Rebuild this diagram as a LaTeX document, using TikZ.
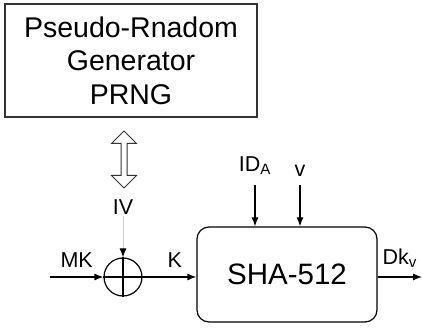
\documentclass[tikz,border=0pt]{standalone}
\usepackage{fontspec}
\setmainfont{Liberation Sans}
\usetikzlibrary{arrows.meta,positioning,shapes.arrows}

\begin{document}
\begin{tikzpicture}[x=1pt,y=-1pt,
  blk/.style={draw=black!80,line width=1.2pt,align=center,inner sep=0pt},
  lbl/.style={font=\fontsize{21.5}{25}\selectfont,inner sep=1pt},
  arr/.style={-{Latex[length=9pt,width=7pt]},line width=1.2pt},
  node distance=8pt]
\useasboundingbox (0,0) rectangle (422,328);
\node[blk,minimum width=252pt,minimum height=113pt,font=\fontsize{28.5}{33.5}\selectfont] (prng) at (131,60.5) {Pseudo-Rnadom\\Generator\\PRNG};
\node[draw=black!80,line width=1pt,double arrow,rotate=90,minimum height=57pt,minimum width=24pt,
      inner sep=2.5pt,double arrow head extend=9.5pt] (iolink) at (124,159.5) {};
\node[lbl] (iv) at (123,207) {IV};
\node[draw,circle,minimum size=38pt,line width=1.2pt,inner sep=0pt] (xor) at (123,277) {};
\draw[line width=1.2pt] (xor.north) -- (xor.south) (xor.west) -- (xor.east);
\draw[-{Latex[length=9pt,width=7pt,color=black]},black!20,line width=1pt] (iv) -- (xor);
\node[blk,draw=black,rounded corners=12pt,minimum width=180pt,minimum height=95pt,font=\fontsize{29.5}{34}\selectfont] (sha) at (287,274.5) {SHA-512};
% inputs and output
\coordinate (mkin) at (50,277);
\coordinate (dkout) at (422,277);
\coordinate (idin) at (255,185);
\coordinate (vin) at (300,185);
\node[lbl,above=9pt of idin] (idlbl) {ID\textsubscript{A}};
\node[lbl,above=7pt of vin] (vlbl) {v};
\draw[arr] (mkin) -- (xor) node[lbl,midway,above=8pt] {MK};
\draw[arr] (xor) -- (xor -| sha.west) node[lbl,pos=0.6,above=8pt] {K};
\draw[arr] (sha.east |- dkout) -- (dkout) node[lbl,midway,above=8pt] {Dk\textsubscript{v}};
\draw[arr] (idin) -- (idin |- sha.north);
\draw[arr] (vin) -- (vin |- sha.north);
\end{tikzpicture}
\end{document}
